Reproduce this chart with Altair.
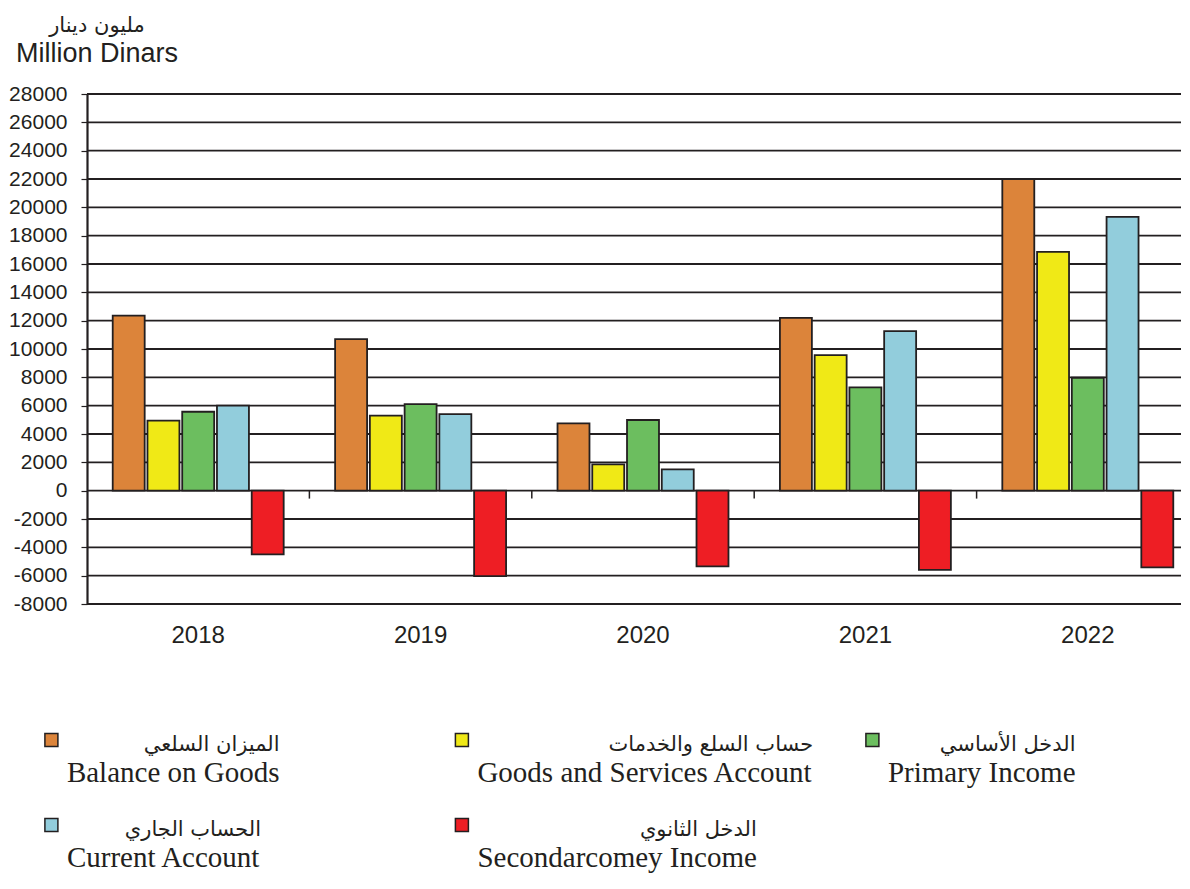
import altair as alt
import pandas as pd

# ---------------- data ----------------
years = ["2018", "2019", "2020", "2021", "2022"]
balance_on_goods = [12350, 10700, 4750, 12200, 22000]
goods_and_services = [4950, 5300, 1850, 9570, 16850]
primary_income = [5570, 6110, 4990, 7290, 7970]
current_account = [6000, 5410, 1500, 11260, 19320]
secondary_income = [-4500, -6030, -5340, -5590, -5410]

series_en = ["Balance on Goods", "Goods and Services Account", "Primary Income",
             "Current Account", "Secondarcomey Income"]
series_ar = ["الميزان السلعي", "حساب السلع والخدمات", "الدخل الأساسي",
             "الحساب الجاري", "الدخل الثانوي"]
series_colors = ["#DC843A", "#F0E916", "#6CBE5F", "#92CDDC", "#EE1E24"]
y_ticks = list(range(-8000, 28001, 2000))

# ---------------- styles / layout ----------------
INK = "#231F20"
PLOT_W, PLOT_H = 1094, 510
BAND_RANGE = 1112            # x band range (the original plot runs past the window)
ZERO_TICK_DEPTH = -560       # small separators under the zero line (data units)
LEG_FONT = 29
LEG_GAP = 15.5
LEG_COL_RANGE = [-35.6, 785.4]
LEG_ROW_RANGE = [36, 121]

# Times / Liberation Serif advance widths (per 1000 em) for legend measurement
TIMES_W = {' ': 250, 'A': 722, 'B': 667, 'C': 667, 'G': 722, 'I': 333, 'P': 556,
           'S': 556, 'a': 444, 'c': 444, 'd': 500, 'e': 444, 'i': 278, 'l': 278,
           'm': 778, 'n': 500, 'o': 500, 'r': 333, 's': 389, 't': 278, 'u': 500,
           'v': 500, 'y': 500}


def text_width(s, size):
    return sum(TIMES_W.get(ch, 500) for ch in s) * size / 1000.0


values = [balance_on_goods, goods_and_services, primary_income, current_account, secondary_income]
rows = []
for name, vals in zip(series_en, values):
    for yr, v in zip(years, vals):
        rows.append({"year": yr, "series": name, "value": v})
df = pd.DataFrame(rows)

grid_df = pd.DataFrame({"tick": y_ticks})
year_df = pd.DataFrame({"year": years})
sep_df = pd.DataFrame({"year": years[1:]})

color_scale = alt.Scale(domain=series_en, range=series_colors)
x_scale = alt.Scale(domain=years, paddingInner=0, paddingOuter=0, range=[0, BAND_RANGE])
y_scale = alt.Scale(domain=[-8000, 28000], nice=False)


def y_axis():
    return alt.Axis(title=None, values=y_ticks, grid=False, labelOverlap=False,
                    labelExpr="'' + datum.value",
                    labelFont="Liberation Sans", labelFontSize=21, labelColor=INK,
                    labelPadding=14, tickSize=6, tickColor=INK, tickWidth=1.2,
                    domainColor=INK, domainWidth=2.2)


grid = alt.Chart(grid_df).mark_rule(color=INK, strokeWidth=1.8).encode(
    y=alt.Y("tick:Q", scale=y_scale, axis=y_axis()),
    x=alt.value(0),
    x2=alt.value("width"),
)

bars = alt.Chart(df).mark_bar(stroke=INK, strokeWidth=1.8).encode(
    x=alt.X("year:N", scale=x_scale, axis=None),
    xOffset=alt.XOffset("series:N", sort=series_en,
                        scale=alt.Scale(paddingInner=0.08, paddingOuter=0.74)),
    y=alt.Y("value:Q", scale=y_scale, axis=y_axis()),
    color=alt.Color("series:N", scale=color_scale, legend=None),
)

seps = alt.Chart(sep_df).mark_rule(color=INK, strokeWidth=1.5).encode(
    x=alt.X("year:N", bandPosition=0, axis=None),
    y=alt.YDatum(0, axis=y_axis()),
    y2=alt.datum(ZERO_TICK_DEPTH),
)

year_labels = alt.Chart(year_df).mark_text(baseline="top", dy=20, font="Liberation Sans",
                                           fontSize=24, color=INK).encode(
    x=alt.X("year:N", axis=None),
    y=alt.YDatum(-8000, axis=y_axis()),
    text="year:N",
)

main = alt.layer(grid, bars, seps, year_labels).properties(
    width=PLOT_W, height=PLOT_H,
    title=alt.Title(text="مليون دينار", subtitle="Million Dinars", anchor="start",
                    frame="group", align="center", dx=10, font="DejaVu Sans",
                    fontSize=21, fontWeight="normal", color=INK,
                    subtitleFont="Liberation Sans", subtitleFontSize=27,
                    subtitleColor=INK, subtitlePadding=5, offset=16),
)

# ---------------- legend ----------------
col_step = (LEG_COL_RANGE[1] - LEG_COL_RANGE[0]) / 2.0
leg_rows = []
for i, (en, ar) in enumerate(zip(series_en, series_ar)):
    col, row = i % 3, i // 3
    w = text_width(en, LEG_FONT)
    leg_rows.append({"series": en, "ar": ar, "col": col, "row": row,
                     "ar_col": col + (LEG_GAP + w) / col_step})
leg_df = pd.DataFrame(leg_rows)

lx = alt.Scale(domain=[0, 2], range=LEG_COL_RANGE)
ly = alt.Scale(domain=[0, 1], range=LEG_ROW_RANGE)

leg_sq = alt.Chart(leg_df).mark_square(size=169, stroke=INK, strokeWidth=1.5, opacity=1).encode(
    x=alt.X("col:Q", scale=lx, axis=None),
    y=alt.Y("row:Q", scale=ly, axis=None),
    color=alt.Color("series:N", scale=color_scale, legend=None),
)
leg_en = alt.Chart(leg_df).mark_text(align="left", baseline="alphabetic", dx=LEG_GAP, dy=42,
                                     font="Liberation Serif", fontSize=LEG_FONT, color=INK).encode(
    x=alt.X("col:Q", scale=lx, axis=None),
    y=alt.Y("row:Q", scale=ly, axis=None),
    text="series:N",
)
leg_ar = alt.Chart(leg_df).mark_text(align="right", baseline="alphabetic", dy=11,
                                     font="DejaVu Sans", fontSize=21, color=INK).encode(
    x=alt.X("ar_col:Q", scale=lx, axis=None),
    y=alt.Y("row:Q", scale=ly, axis=None),
    text="ar:N",
)
legend = alt.layer(leg_sq, leg_en, leg_ar).properties(width=PLOT_W, height=128)

chart = alt.vconcat(main, legend, spacing=100, bounds="flush").properties(
    padding={"left": 0, "top": 7, "right": 0, "bottom": 0}
).configure_view(stroke=None)

chart.save("out.html", embed_options={"renderer": "svg", "actions": False})
